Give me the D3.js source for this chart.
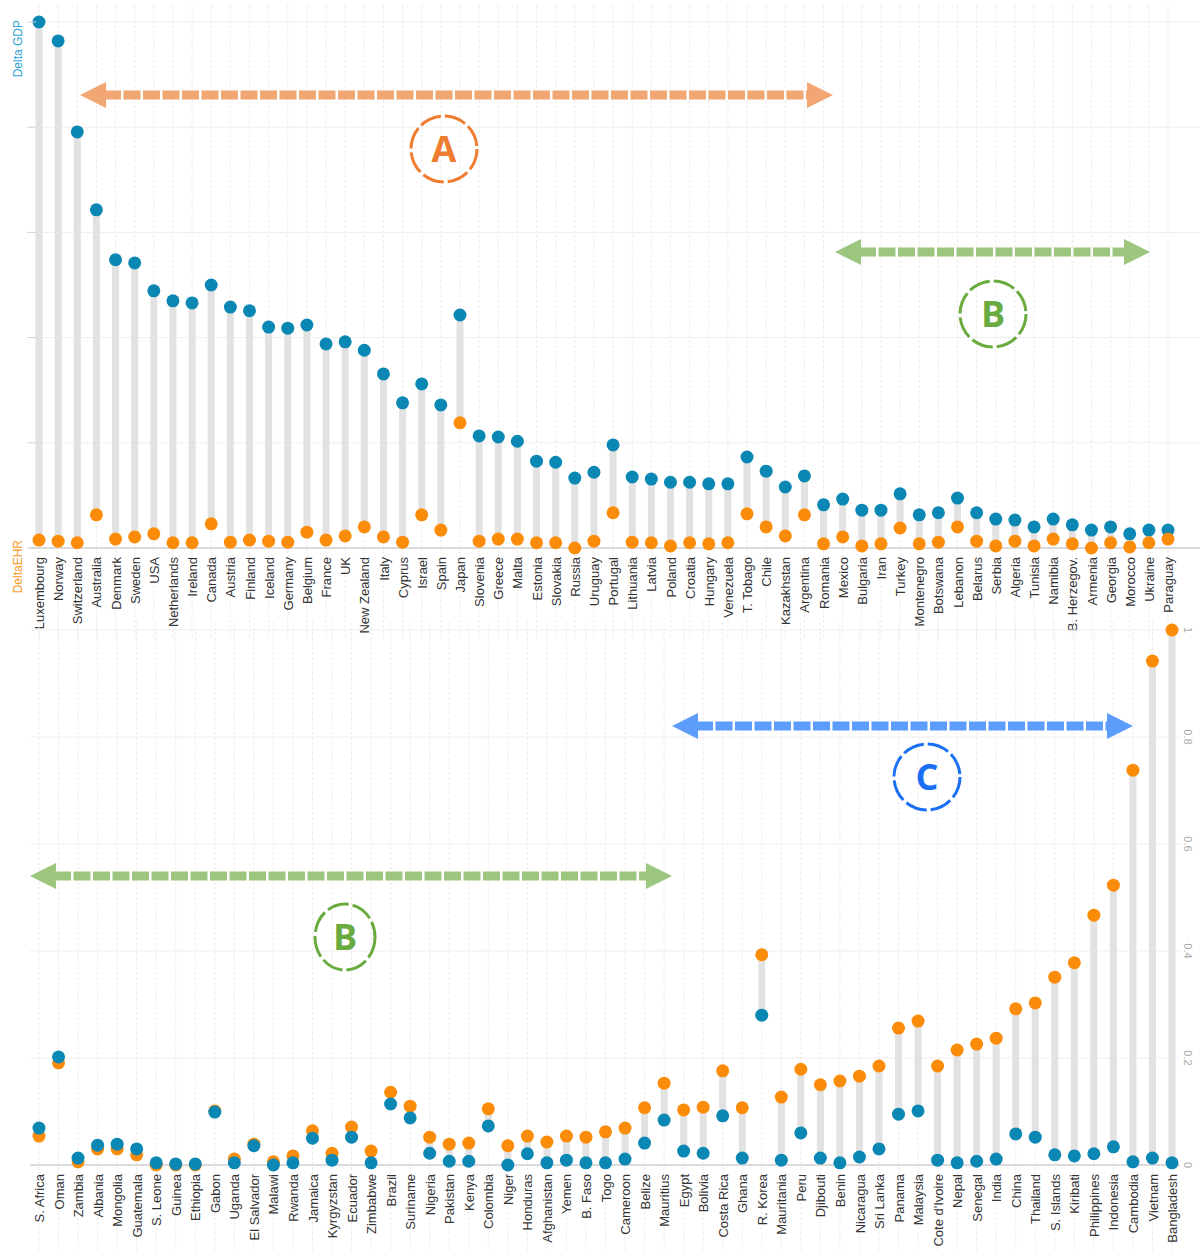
<!DOCTYPE html>
<html><head><meta charset="utf-8">
<script src="https://cdn.jsdelivr.net/npm/d3@7"></script>
<style>
body{margin:0;background:#fff;}
svg{display:block;font-family:"Liberation Sans",Arial,sans-serif;}
</style></head>
<body><svg id="c" width="1200" height="1250"></svg>
<script>
// ---------- DATA ----------
const topCountries = ["Luxembourg","Norway","Switzerland","Australia","Denmark","Sweden","USA","Netherlands","Ireland","Canada","Austria","Finland","Iceland","Germany","Belgium","France","UK","New Zealand","Italy","Cyprus","Israel","Spain","Japan","Slovenia","Greece","Malta","Estonia","Slovakia","Russia","Uruguay","Portugal","Lithuania","Latvia","Poland","Croatia","Hungary","Venezuela","T. Tobago","Chile","Kazakhstan","Argentina","Romania","Mexico","Bulgaria","Iran","Turkey","Montenegro","Botswana","Lebanon","Belarus","Serbia","Algeria","Tunisia","Namibia","B. Herzegov.","Armenia","Georgia","Morocco","Ukraine","Paraguay"];
const topGDP = [1.0,0.964,0.791,0.643,0.548,0.542,0.489,0.470,0.466,0.500,0.458,0.451,0.420,0.418,0.424,0.388,0.392,0.376,0.331,0.276,0.312,0.272,0.443,0.213,0.211,0.203,0.165,0.163,0.133,0.144,0.196,0.135,0.131,0.125,0.125,0.122,0.122,0.173,0.146,0.116,0.137,0.082,0.093,0.072,0.072,0.103,0.063,0.067,0.095,0.067,0.055,0.053,0.040,0.055,0.044,0.034,0.040,0.027,0.034,0.034];
const topEHR = [0.015,0.013,0.010,0.063,0.017,0.021,0.027,0.010,0.010,0.046,0.011,0.015,0.013,0.011,0.030,0.015,0.023,0.040,0.021,0.011,0.063,0.034,0.238,0.013,0.017,0.017,0.010,0.010,0.000,0.013,0.067,0.011,0.010,0.004,0.010,0.008,0.010,0.065,0.040,0.023,0.063,0.008,0.021,0.004,0.008,0.038,0.008,0.011,0.040,0.013,0.004,0.013,0.004,0.017,0.008,0.000,0.010,0.002,0.010,0.017];

const botCountries = ["S. Africa","Oman","Zambia","Albania","Mongolia","Guatemala","S. Leone","Guinea","Ethiopia","Gabon","Uganda","El Salvador","Malawi","Rwanda","Jamaica","Kyrgyzstan","Ecuador","Zimbabwe","Brazil","Suriname","Nigeria","Pakistan","Kenya","Colombia","Niger","Honduras","Afghanistan","Yemen","B. Faso","Togo","Cameroon","Belize","Mauritius","Egypt","Bolivia","Costa Rica","Ghana","R. Korea","Mauritania","Peru","Djibouti","Benin","Nicaragua","Sri Lanka","Panama","Malaysia","Cote d'Ivoire","Nepal","Senegal","India","China","Thailand","S. Islands","Kiribati","Philippines","Indonesia","Cambodia","Vietnam","Bangladesh"];
const botGDP = [0.069,0.202,0.013,0.037,0.039,0.030,0.004,0.002,0.002,0.099,0.004,0.036,0.000,0.004,0.050,0.009,0.052,0.004,0.114,0.088,0.022,0.007,0.007,0.073,0.000,0.021,0.004,0.009,0.004,0.004,0.011,0.041,0.084,0.026,0.022,0.092,0.013,0.280,0.009,0.060,0.013,0.004,0.015,0.030,0.095,0.101,0.009,0.004,0.007,0.011,0.058,0.052,0.019,0.017,0.021,0.034,0.006,0.013,0.004];
const botEHR = [0.054,0.191,0.006,0.030,0.030,0.019,0.000,0.000,0.000,0.101,0.011,0.039,0.006,0.017,0.064,0.022,0.071,0.026,0.136,0.110,0.052,0.039,0.041,0.105,0.036,0.054,0.043,0.054,0.052,0.062,0.069,0.107,0.153,0.103,0.108,0.176,0.107,0.393,0.127,0.179,0.150,0.157,0.166,0.185,0.256,0.269,0.185,0.215,0.226,0.237,0.292,0.303,0.351,0.378,0.467,0.523,0.738,0.942,1.000];

const yTicks = [0,0.2,0.4,0.6,0.8,1];
const yTickLabels = ["0","0.2","0.4","0.6","0.8","1"];

const annotations = [
  {letter:"A", x1:80, x2:833, y:95, cx:444, cy:149, rx:33, ry:33, arrow:"#f2a673", ring:"#ef7d31"},
  {letter:"B", x1:835, x2:1150, y:252, cx:993, cy:314, rx:33, ry:33, arrow:"#9cc57e", ring:"#6aab3f"},
  {letter:"C", x1:672, x2:1133, y:726, cx:927, cy:777, rx:33, ry:33, arrow:"#5c9cfa", ring:"#1a6ff4"},
  {letter:"B", x1:30, x2:672, y:876, cx:345, cy:937, rx:30, ry:33, arrow:"#9cc57e", ring:"#6aab3f"}
];

// ---------- DRAW ----------
const svg = d3.select("#c");
const BLUE = "#0b87b4", ORANGE = "#fb8c0a", STEM = "#e2e2e2";

function panel(cats, gdp, ehr, opt){
  const x = d3.scalePoint().domain(cats).range(opt.xr);
  const y = d3.scaleLinear().domain([0,1]).range(opt.yr);
  const g = svg.append("g");
  g.append("g").selectAll("line").data(cats).join("line")
    .attr("x1", d=>x(d)).attr("x2", d=>x(d))
    .attr("y1", opt.vgTop).attr("y2", opt.vgBot)
    .attr("stroke","#ececec").attr("stroke-width",1).attr("stroke-dasharray","3,2");
  g.append("g").selectAll("line").data(yTicks).join("line")
    .attr("x1", opt.hg[0]).attr("x2", opt.hg[1])
    .attr("y1", d=>y(d)).attr("y2", d=>y(d))
    .attr("stroke", d=> d===0 ? "#cfcfcf" : "#eeeeee").attr("stroke-width", d=> d===0 ? 1.5 : 1);
  const ax = g.append("g").attr("transform",`translate(0,${opt.yr[0]})`)
    .call(d3.axisBottom(x).tickSize(0).tickPadding(0));
  ax.select(".domain").remove();
  ax.selectAll("text")
    .attr("transform", `translate(0,9) rotate(-90)`)
    .attr("x",0).attr("y",0).attr("dy","0.35em")
    .attr("text-anchor","end")
    .attr("fill","#333").style("font-size","13px");
  const rows = cats.map((c,i)=>({c, a:gdp[i], b:ehr[i]}));
  g.append("g").selectAll("line").data(rows).join("line")
    .attr("x1", d=>x(d.c)).attr("x2", d=>x(d.c))
    .attr("y1", d=>y(d.a)).attr("y2", d=>y(d.b))
    .attr("stroke", STEM).attr("stroke-width",7);
  const first = opt.blueOnTop ? "b" : "a", second = opt.blueOnTop ? "a" : "b";
  const col = {a:BLUE, b:ORANGE};
  [first, second].forEach(k=>{
    g.append("g").selectAll("circle").data(rows).join("circle")
      .attr("cx", d=>x(d.c)).attr("cy", d=>y(d[k])).attr("r",6.5)
      .attr("fill", col[k]);
  });
  return {x,y,g};
}

const topPanel = panel(topCountries, topGDP, topEHR, {xr:[39,1168], yr:[548,22], vgTop:5, vgBot:640, hg:[30,1200], blueOnTop:false});
topPanel.g.append("g").selectAll("line").data(yTicks).join("line")
  .attr("x1",27).attr("x2",36).attr("y1",d=>topPanel.y(d)).attr("y2",d=>topPanel.y(d))
  .attr("stroke","#d5d5d5").attr("stroke-width",1);
svg.append("text").attr("transform",`translate(22,${topPanel.y(1)-2}) rotate(-90)`)
  .attr("text-anchor","end").attr("fill","#2ea3d3").style("font-size","12px").text("Delta GDP");
svg.append("text").attr("transform",`translate(22,${topPanel.y(0)-8}) rotate(-90)`)
  .attr("text-anchor","end").attr("fill","#f59a1e").style("font-size","12px").text("DeltaEHR");

const botPanel = panel(botCountries, botGDP, botEHR, {xr:[39,1172], yr:[1165,630], vgTop:622, vgBot:1250, hg:[30,1180], blueOnTop:true});
botPanel.g.append("g").selectAll("text").data(yTicks).join("text")
  .attr("transform", d=>`translate(1188,${botPanel.y(d)}) rotate(90)`)
  .attr("text-anchor","middle").attr("dy","0.35em")
  .attr("fill","#aaa").style("font-size","11px")
  .text((d,i)=>yTickLabels[i]);

const ann = svg.append("g");
annotations.forEach(a=>{
  const hl = 26, hh = 13, th = 9;
  ann.append("line").attr("x1",a.x1+hl-2).attr("x2",a.x2-hl+2).attr("y1",a.y).attr("y2",a.y)
    .attr("stroke",a.arrow).attr("stroke-width",th).attr("stroke-dasharray","17,2.5");
  ann.append("path").attr("d",`M${a.x1},${a.y} L${a.x1+hl},${a.y-hh} L${a.x1+hl},${a.y+hh} Z`).attr("fill",a.arrow);
  ann.append("path").attr("d",`M${a.x2},${a.y} L${a.x2-hl},${a.y-hh} L${a.x2-hl},${a.y+hh} Z`).attr("fill",a.arrow);
  ann.append("ellipse").attr("cx",a.cx).attr("cy",a.cy).attr("rx",a.rx).attr("ry",a.ry)
    .attr("fill","none").attr("stroke",a.ring).attr("stroke-width",3).attr("stroke-dasharray","22,4");
  ann.append("text").attr("x",a.cx).attr("y",a.cy).attr("dy","0.36em").attr("text-anchor","middle")
    .attr("fill",a.ring).style("font-size","36px").style("font-weight","bold")
    .style("font-family","'Liberation Sans Narrow','Open Sans',sans-serif").text(a.letter);
});
</script></body></html>
